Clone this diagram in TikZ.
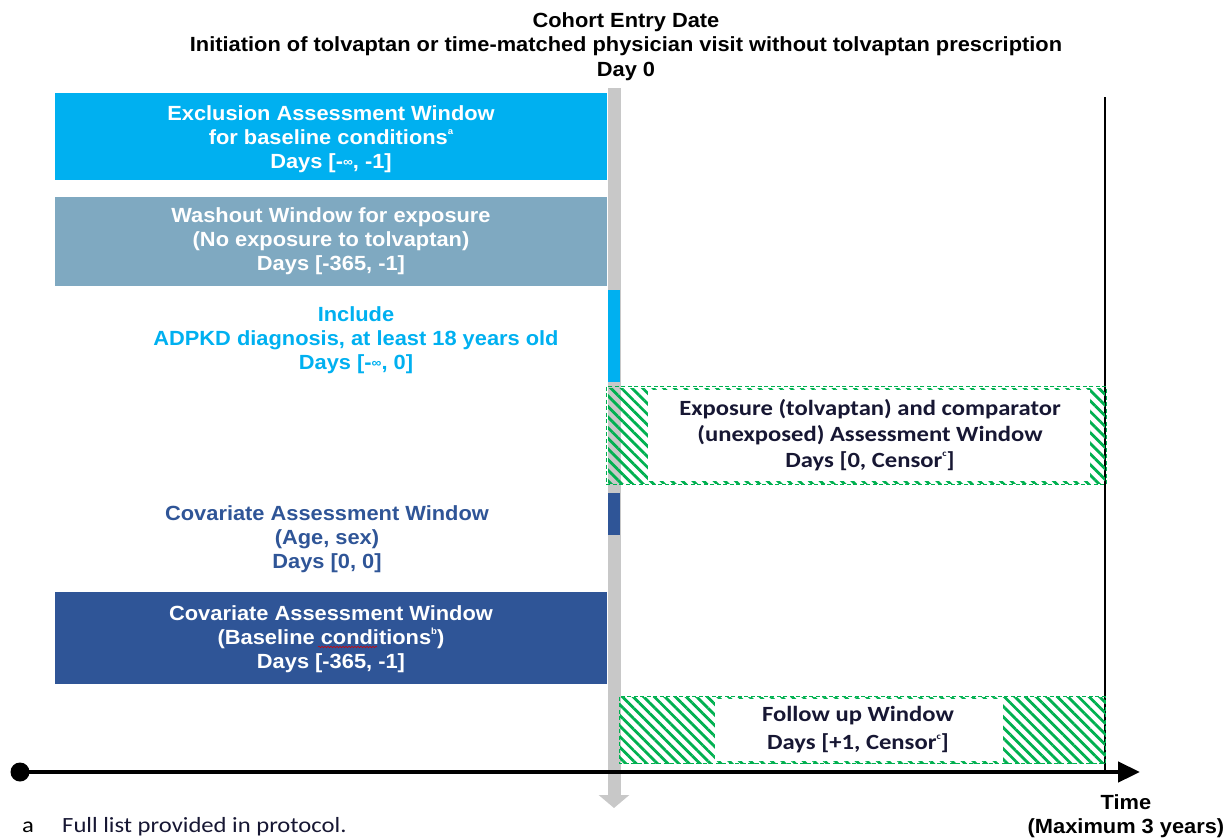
\documentclass[tikz,border=0pt]{standalone}
\usepackage{fontspec}
\setmainfont[FakeStretch=1.065]{Liberation Sans}
\newfontfamily\calibfont[FakeStretch=1.135]{Carlito}
\usetikzlibrary{arrows.meta,patterns.meta,decorations.pathmorphing}

\definecolor{cyanwin}{HTML}{00B0F0}
\definecolor{washwin}{HTML}{7FA9C1}
\definecolor{navywin}{HTML}{2F5597}
\definecolor{hatchgreen}{HTML}{00B050}
\definecolor{daybar}{HTML}{C8C8C8}
\definecolor{darktext}{HTML}{171733}

\newcommand\smallsup[1]{\raisebox{0.5em}{\fontsize{9}{9}\selectfont #1}}
\newcommand\infsym{\raisebox{0.1em}{\fontsize{13}{13}\selectfont ∞}}

\tikzset{
  arialtext/.style={font=\bfseries\fontsize{20.5}{24}\selectfont, align=center},
  calibtext/.style={font=\calibfont\bfseries\fontsize{21.7}{26}\selectfont, align=center, text=darktext},
  winbox/.style={minimum width=552pt, inner sep=0pt},
  daymark/.style={minimum width=12pt, inner sep=0pt},
  hatched/.style={pattern={Lines[angle=-45, distance=7.5pt, line width=2.8pt]}, pattern color=hatchgreen, inner sep=0pt},
  hatchborder/.style={draw=hatchgreen, line width=1.3pt, dash pattern=on 4pt off 2.5pt},
  cleararea/.style={fill=white, inner sep=0pt},
}

\begin{document}
\begin{tikzpicture}[x=1pt, y=-1pt]
\useasboundingbox (0,0) rectangle (1229,838);

% heading
\node[arialtext, font=\bfseries\fontsize{20.5}{24.5}\selectfont] (head) at (626,46.5)
  {Cohort Entry Date\\Initiation of tolvaptan or time-matched physician visit without tolvaptan prescription\\Day 0};

% day 0 marker running down the page
\coordinate (dayzerotop) at (614,88);
\coordinate (dayzeroend) at (614,808);
\draw[daybar, line width=13pt, -{Triangle[width=30pt, length=13pt]}] (dayzerotop) -- (dayzeroend);

% end of the time window
\coordinate (censtop) at (1105,97);
\coordinate (censbot) at (1105,772);
\draw[black, line width=1.5pt] (censtop) -- (censbot);

% windows before day 0
\node[winbox, fill=cyanwin, minimum height=87pt] (excl) at (331,136.5) {};
\node[arialtext, text=white] (excltext) at (331,139)
  {Exclusion Assessment Window\\for baseline conditions\smallsup{a}\\Days [-\infsym, -1]};
\node[winbox, fill=washwin, minimum height=89pt] (wash) at (331,241.5) {};
\node[arialtext, text=white] (washtext) at (331,241)
  {Washout Window for exposure\\(No exposure to tolvaptan)\\Days [-365, -1]};

\node[arialtext, text=cyanwin] (incl) at (356,340)
  {Include\\ADPKD diagnosis, at least 18 years old\\Days [-\infsym, 0]};
\node[daymark, fill=cyanwin, minimum height=92pt] (inclbar) at (614,336) {};

% exposure window
\node[hatched, minimum width=497pt, minimum height=95pt] (expo) at (856.5,435.5) {};
\node[cleararea, minimum width=442pt, minimum height=91pt] (expoclear) at (869,435.5) {};
\draw[hatchborder] (expo.north west) rectangle (expo.south east);
\node[calibtext] (expotext) at (870,435)
  {Exposure (tolvaptan) and comparator\\(unexposed) Assessment Window\\Days [0, Censor\smallsup{c}]};

% covariate windows
\node[arialtext, text=navywin] (covage) at (327,539)
  {Covariate Assessment Window\\(Age, sex)\\Days [0, 0]};
\node[daymark, fill=navywin, minimum height=42pt] (covbar) at (614,514) {};
\node[winbox, fill=navywin, minimum height=92pt] (covbase) at (331,638) {};
\node[arialtext, text=white] (covbasetext) at (331,639)
  {Covariate Assessment Window\\(Baseline conditions\smallsup{b})\\Days [-365, -1]};
\coordinate (squigA) at (318,647);
\coordinate (squigB) at (377,647);
\draw[red!85!black, line width=0.5pt, decorate, decoration={snake, amplitude=0.8pt, segment length=3pt}] (squigA) -- (squigB);

% follow up window
\node[hatched, minimum width=485pt, minimum height=66pt] (follow) at (862.5,730) {};
\node[cleararea, minimum width=288pt, minimum height=62pt] (followclear) at (859,730) {};
\draw[hatchborder] (follow.north west) rectangle (follow.south east);
\node[calibtext, font=\calibfont\bfseries\fontsize{21.7}{28}\selectfont] (followtext) at (858,730)
  {Follow up Window\\Days [+1, Censor\smallsup{c}]};

% time axis
\node[circle, fill=black, minimum size=19pt, inner sep=0pt] (origin) at (20,772) {};
\coordinate (timeend) at (1140,772);
\draw[black, line width=4.5pt, -{Triangle[width=20pt, length=22pt]}] (origin.center) -- (timeend);
\node[arialtext, text=black] (timelabel) at (1126,816) {Time\\(Maximum 3 years)};

% footnote
\node[font=\calibfont\fontsize{21.7}{24}\selectfont, anchor=base west, inner sep=0pt] (fnmark) at (22,832) {a};
\node[font=\calibfont\fontsize{21.7}{24}\selectfont, text=darktext, anchor=base west, inner sep=0pt] (fntext) at (62,832) {Full list provided in protocol.};
\end{tikzpicture}
\end{document}
